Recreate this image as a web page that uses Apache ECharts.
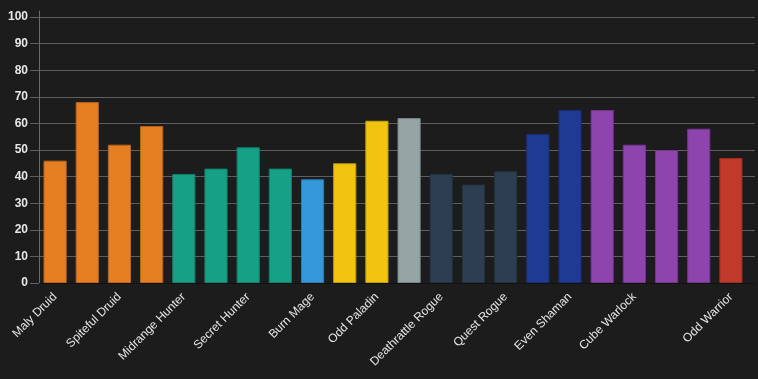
<!DOCTYPE html>
<html>
<head>
<meta charset="utf-8">
<script src="https://cdn.jsdelivr.net/npm/echarts@6/dist/echarts.min.js"></script>
<style>
html,body{margin:0;padding:0;background:#1c1c1c;}
#c{width:758px;height:379px;}
</style>
</head>
<body>
<div id="c"></div>
<script>
const categories = [
  "Maly Druid", "Mecha'thun Druid", "Spiteful Druid", "Taunt Druid",
  "Midrange Hunter", "Recruit Hunter", "Secret Hunter", "Spell Hunter",
  "Burn Mage", "Even Paladin", "Odd Paladin", "Resurrect Priest",
  "Deathrattle Rogue", "Odd Rogue", "Quest Rogue",
  "Shudderwock Shaman", "Even Shaman",
  "Control Warlock", "Cube Warlock", "Even Warlock", "Zoo Warlock",
  "Odd Warrior"
];
const values = [46, 68, 52, 59, 41, 43, 51, 43, 39, 45, 61, 62, 41, 37, 42, 56, 65, 65, 52, 50, 58, 47];
const yTicks = [0, 10, 20, 30, 40, 50, 60, 70, 80, 90, 100];
const labelIndices = [0, 2, 4, 6, 8, 10, 12, 14, 16, 18, 21];

// styles
const barColors = [
  "#e67e22", "#e67e22", "#e67e22", "#e67e22",
  "#16a085", "#16a085", "#16a085", "#16a085",
  "#3498db", "#f1c40f", "#f1c40f", "#95a5a6",
  "#2c3e50", "#2c3e50", "#2c3e50",
  "#1e3a93", "#1e3a93",
  "#8e44ad", "#8e44ad", "#8e44ad", "#8e44ad",
  "#c0392b"
];
const borderColors = [
  "#b8651b", "#b8651b", "#b8651b", "#b8651b",
  "#12806a", "#12806a", "#12806a", "#12806a",
  "#2a7aaf", "#c19d0c", "#c19d0c", "#778485",
  "#233240", "#233240", "#233240",
  "#182e76", "#182e76",
  "#72368a", "#72368a", "#72368a", "#72368a",
  "#9a2e22"
];

const chart = echarts.init(document.getElementById('c'), null, {renderer: 'canvas'});
const gridTop = 17, gridBottom = 96;
const font = 'Liberation Sans, Arial, sans-serif';
chart.setOption({
  backgroundColor: '#1c1c1c',
  animation: false,
  grid: [
    {left: 39, right: 11, top: gridTop, bottom: gridBottom},
    {left: 39, right: 3, top: gridTop, bottom: gridBottom},
    {left: 39, right: 3, top: 11, bottom: gridBottom}
  ],
  xAxis: [
    {
      gridIndex: 0,
      type: 'category',
      data: categories,
      boundaryGap: true,
      axisLine: {show: false},
      axisTick: {show: false},
      splitLine: {show: false},
      axisLabel: {
        rotate: 45,
        margin: 12,
        color: '#e6e6e6',
        fontSize: 12,
        fontFamily: font,
        interval: function (i) { return labelIndices.indexOf(i) >= 0; }
      }
    },
    {
      gridIndex: 1,
      type: 'value',
      min: 0, max: 1,
      axisLine: {show: true, onZero: false, lineStyle: {color: '#111111', width: 1}},
      axisTick: {show: false},
      axisLabel: {show: false},
      splitLine: {show: false}
    },
    {
      gridIndex: 2,
      type: 'value',
      min: 0, max: 1,
      show: false
    }
  ],
  yAxis: [
    {
      gridIndex: 0,
      type: 'value',
      min: yTicks[0], max: yTicks[yTicks.length - 1], interval: 10,
      axisLine: {show: false},
      axisTick: {show: true, length: 9, lineStyle: {color: '#5e5e5e'}},
      splitLine: {show: false},
      axisLabel: {
        margin: 11,
        color: '#e6e6e6',
        fontSize: 12,
        fontWeight: 'bold',
        fontFamily: font
      }
    },
    {
      gridIndex: 1,
      type: 'value',
      min: yTicks[0], max: yTicks[yTicks.length - 1], interval: 10,
      axisLine: {show: false},
      axisTick: {show: false},
      axisLabel: {show: false},
      splitLine: {show: true, lineStyle: {color: '#5e5e5e', width: 1}}
    },
    {
      gridIndex: 2,
      type: 'value',
      min: 0, max: 1,
      axisLine: {show: true, lineStyle: {color: '#6a6a6a', width: 1}},
      axisTick: {show: false},
      axisLabel: {show: false},
      splitLine: {show: false}
    }
  ],
  series: [
    {
      type: 'bar',
      xAxisIndex: 0,
      yAxisIndex: 0,
      barWidth: '72%',
      z: 3,
      data: values.map((v, i) => ({
        value: v,
        itemStyle: {color: barColors[i], borderColor: borderColors[i], borderWidth: 1}
      }))
    }
  ]
});
</script>
</body>
</html>
